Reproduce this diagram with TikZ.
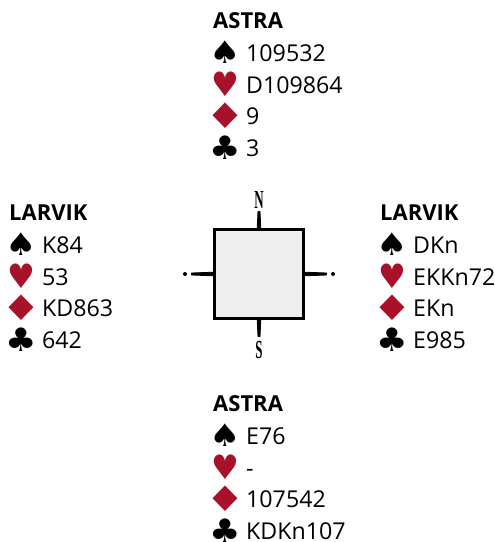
\documentclass[tikz,border=0pt]{standalone}
\usepackage{fontspec}
\setmainfont{Open Sans}
\newfontfamily\suitfont{DejaVu Sans}
\newfontfamily\windfont{Liberation Serif}
\definecolor{suitred}{HTML}{A8112A}
\definecolor{boardgray}{HTML}{EFEFEF}
\tikzset{
    handtext/.style={anchor=base west,inner sep=0pt,font=\fontsize{23.2}{26}\selectfont},
    handname/.style={anchor=base west,inner sep=0pt,font=\fontsize{22}{26}\selectfont\bfseries},
    suitsign/.style={inner sep=0pt,font=\fontsize{27}{27}\suitfont},
    windsign/.style={inner sep=0pt,xscale=.5,font=\fontsize{26}{28}\windfont\bfseries},
}
\begin{document}
\begin{tikzpicture}[x=1pt,y=-1pt]
    \useasboundingbox (0,0) rectangle (495,542);
    % hands
    \foreach \hnd/\hx/\hy/\nm/\ss/\hh/\dd/\cc in {
        north/213/28/ASTRA/109532/D109864/9/3,
        west/9/220/LARVIK/K84/53/KD863/642,
        east/380/220/LARVIK/DKn/EKKn72/EKn/E985,
        south/213/411/ASTRA/E76/-/107542/KDKn107}{
        \node[handname] (\hnd-name) at (\hx,\hy+.5) {\nm};
        \node[suitsign,xscale=1.3,yscale=1.15] (\hnd-s) at (\hx+12,\hy+24) {♠};
        \node[suitsign,xscale=1.15,yscale=1.25,text=suitred] (\hnd-h) at (\hx+12,\hy+56) {♥};
        \node[suitsign,xscale=1.65,yscale=1.3,text=suitred] (\hnd-d) at (\hx+12,\hy+88) {♦};
        \node[suitsign,xscale=1.3,yscale=1.2] (\hnd-c) at (\hx+12,\hy+119.5) {♣};
        \node[handtext] (\hnd-st) at (\hx+33,\hy+33) {\ss};
        \node[handtext] (\hnd-ht) at (\hx+33,\hy+65) {\hh};
        \node[handtext] (\hnd-dt) at (\hx+33,\hy+96.5) {\dd};
        \node[handtext] (\hnd-ct) at (\hx+33,\hy+128.5) {\cc};
    }
    %===========================================
    \node[draw,line width=2.6pt,fill=boardgray,minimum size=89pt,inner sep=0pt] (board) at (259,274) {};
    \foreach \a/\l in {0/67.5,90/62.5,180/67.5,270/62.5}
        \draw[shift={(board.center)},rotate=\a,line join=round,line width=.8pt,fill=black] (44,-1.9)--(\l,-1)--(\l,1)--(44,1.9)--cycle;
    \node[windsign] (windn) at (259,199.5) {N};
    \node[windsign] (winds) at (259,350) {S};
    \fill (185,274) circle (2) (333,274) circle (2);
\end{tikzpicture}
\end{document}
